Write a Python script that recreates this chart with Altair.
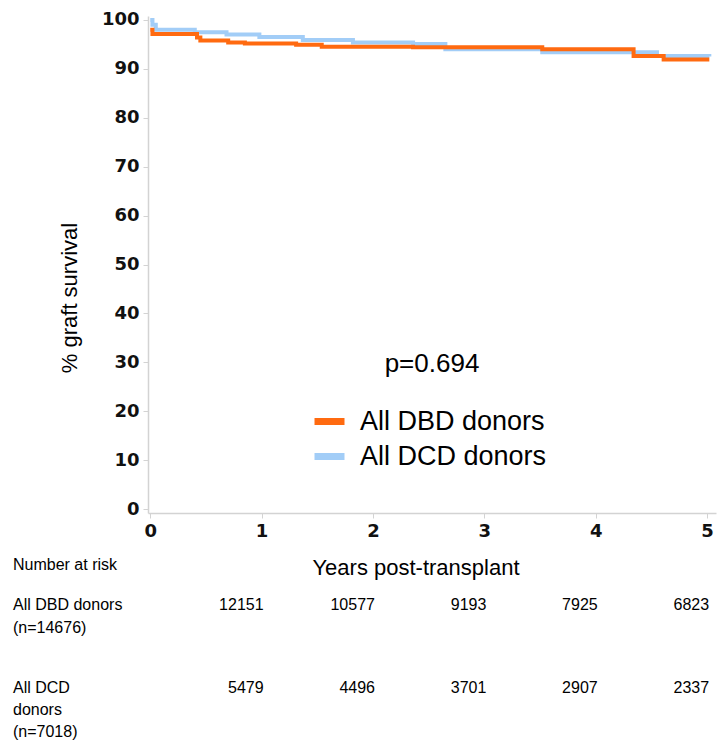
import altair as alt
import pandas as pd

# Kaplan-Meier steps (years, % graft survival)
dbd_t = [0, 0.02, 0.42, 0.45, 0.70, 0.85, 1.31, 1.54, 2.36, 3.52, 4.34, 4.61, 5.02]
dbd_s = [98.0, 97.1, 96.4, 95.8, 95.4, 95.2, 94.9, 94.5, 94.4, 94.0, 92.6, 91.9, 91.9]
dcd_t = [0, 0.02, 0.05, 0.40, 0.685, 0.98, 1.37, 1.82, 2.36, 2.65, 3.52, 4.55, 5.02]
dcd_s = [100.0, 99.0, 98.0, 97.5, 97.0, 96.5, 95.9, 95.4, 95.1, 94.0, 93.4, 92.6, 92.5]

groups = ["All DBD donors", "All DCD donors"]
colors = ["#FF6A10", "#A2CDF7"]

risk_years = [1, 2, 3, 4, 5]
dbd_risk = [12151, 10577, 9193, 7925, 6823]
dcd_risk = [5479, 4496, 3701, 2907, 2337]

x_ticks = [0, 1, 2, 3, 4, 5]
y_ticks = [0, 10, 20, 30, 40, 50, 60, 70, 80, 90, 100]

FONT = "Liberation Sans"

curve = pd.concat([
    pd.DataFrame({"t": dbd_t, "s": dbd_s, "group": groups[0]}),
    pd.DataFrame({"t": dcd_t, "s": dcd_s, "group": groups[1]}),
])

xscale = alt.Scale(domain=[-0.02, 5.08], nice=False, zero=False)
yscale = alt.Scale(domain=[-0.8, 100.8], nice=False, zero=False)
xaxis = alt.Axis(values=x_ticks, title=None, format="d")

base = alt.Chart(curve).mark_line(
    interpolate="step-after", strokeWidth=4, strokeCap="butt"
).encode(
    x=alt.X("t:Q", scale=xscale, axis=xaxis),
    y=alt.Y("s:Q", scale=yscale,
            axis=alt.Axis(values=y_ticks, title=None, format="d")),
    color=alt.Color(
        "group:N",
        scale=alt.Scale(domain=groups, range=colors),
        legend=alt.Legend(
            title=None, orient="none", legendX=163, legendY=387,
            symbolType="stroke", symbolStrokeWidth=7, symbolSize=900,
            labelFontSize=27, labelFont=FONT, labelColor="black",
            labelLimit=400, rowPadding=2, labelOffset=12,
        ),
    ),
)

blue_line = base.transform_filter(alt.datum.group == groups[1])
orange_line = base.transform_filter(alt.datum.group == groups[0])


def label(txt, x, y, size=16, align="left", angle=0, weight="normal"):
    return alt.Chart(pd.DataFrame({"txt": [txt]})).mark_text(
        align=align, baseline="middle", fontSize=size, font=FONT,
        color="black", angle=angle, fontWeight=weight,
    ).encode(text="txt:N", x=alt.value(x), y=alt.value(y))


risk_dbd = alt.Chart(pd.DataFrame({"t": risk_years, "n": dbd_risk})).mark_text(
    align="right", baseline="middle", fontSize=16, font=FONT, color="black", dx=2
).encode(x=alt.X("t:Q", scale=xscale, axis=xaxis), y=alt.value(589), text="n:N")

risk_dcd = alt.Chart(pd.DataFrame({"t": risk_years, "n": dcd_risk})).mark_text(
    align="right", baseline="middle", fontSize=16, font=FONT, color="black", dx=2
).encode(x=alt.X("t:Q", scale=xscale, axis=xaxis), y=alt.value(672), text="n:N")

texts = [
    label("% graft survival", -78, 282, size=22, align="center", angle=270),
    label("Years post-transplant", 268, 552, size=22, align="center"),
    label("p=0.694", 284, 348, size=26, align="center"),
    label("Number at risk", -135, 549, size=16),
    label("All DBD donors", -135, 589, size=16),
    label("(n=14676)", -135, 612, size=16),
    label("All DCD", -135, 672, size=16),
    label("donors", -135, 694, size=16),
    label("(n=7018)", -135, 716, size=16),
]

chart = alt.layer(blue_line, orange_line, risk_dbd, risk_dcd, *texts).properties(
    width=568,
    height=497,
    autosize=alt.AutoSizeParams(type="none"),
    padding={"left": 148, "top": 16, "right": 1, "bottom": 227},
    background="white",
).configure_view(stroke=None).configure_axis(
    grid=False,
    domainColor="#d3d3d3",
    domainWidth=1.5,
    tickColor="#d3d3d3",
    tickSize=5,
    labelFont="DejaVu Sans",
    labelFontWeight="bold",
    labelFontSize=18,
    labelColor="#111111",
    labelPadding=4,
)

chart.save("out.html", embed_options={"renderer": "svg", "actions": False})
